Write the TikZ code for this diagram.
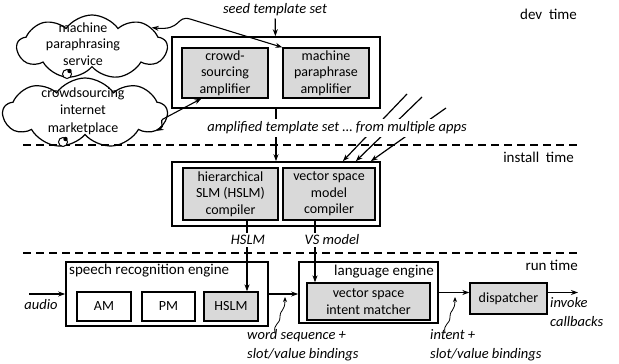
\documentclass[tikz,border=0pt]{standalone}
\usepackage{fontspec}
\setmainfont{Carlito}
\usetikzlibrary{arrows.meta,positioning,calc,shapes.symbols}
\definecolor{boxgray}{HTML}{D9D9D9}
\tikzset{
  stage/.style={draw,line width=1.6pt,inner sep=0pt},
  unit/.style={draw,line width=1.3pt,fill=boxgray,inner sep=0pt,align=center,font=\fontsize{14}{16.5}\selectfont},
  plainunit/.style={draw,line width=1.3pt,inner sep=0pt,align=center,font=\fontsize{14}{16.5}\selectfont},
  lbl/.style={font=\fontsize{14.5}{19}\selectfont\itshape,fill=white,inner sep=2pt,align=left},
  phase/.style={font=\fontsize{15}{17}\selectfont,inner sep=0pt},
  cloudsh/.style={cloud,draw,line width=1.2pt,cloud puffs=9,cloud puff arc=110,cloud ignores aspect,inner sep=0pt},
  flow/.style={-{Stealth[length=7pt,width=5pt]},line width=1.2pt},
  sep/.style={line width=1.6pt,dash pattern=on 8pt off 5pt}
}
\begin{document}
\begin{tikzpicture}[x=1pt,y=-1pt]
  \useasboundingbox (0,0) rectangle (619,364);

  % phase separators
  \coordinate (s1l) at (23,145);
  \coordinate (s1r) at (577,145);
  \coordinate (s2l) at (23,253);
  \coordinate (s2r) at (577,253);
  \draw[sep] (s1l) -- (s1r);
  \draw[sep] (s2l) -- (s2r);
  \node[phase,anchor=east] (devt) at (577,14) {dev\ \ time};
  \node[phase,anchor=east] (instt) at (574,157) {install\ \ time};
  \node[phase,anchor=east] (runt) at (578,265) {run time};

  % dev time
  \node[stage,minimum width=208,minimum height=71] (dev) at (276,72.5) {};
  \node[unit,minimum width=86,minimum height=50] (cs) at (225,73) {crowd-\\sourcing\\amplifier};
  \node[unit,minimum width=86,minimum height=50] (mp) at (326,73) {machine\\paraphrase\\amplifier};

  % services
  \node[cloudsh,minimum width=150,minimum height=64] (mpcloud) at (92,47) {};
  \node[font=\fontsize{14}{16.5}\selectfont,align=center] (mptxt) at (83,44) {machine\\paraphrasing\\service};
  \node[cloudsh,minimum width=164,minimum height=70] (cscloud) at (85,113) {};
  \node[font=\fontsize{14}{17.5}\selectfont,align=center] (cstxt) at (83,111) {crowdsourcing\\internet\\marketplace};
  \draw[line width=1pt,fill=white] (67,74) circle[radius=4.5pt];
  \fill (69.5,71) circle[radius=2.2pt];
  \draw[line width=1pt,fill=white] (63,142) circle[radius=4.5pt];
  \fill (65.5,139) circle[radius=2.2pt];

  \draw[{Stealth[length=7pt,width=5pt]}-{Stealth[length=7pt,width=5pt]},line width=1.1pt]
    (mp.north west) -- (190,19) .. controls (176,15) and (182,31) .. (mpcloud.18);
  \draw[{Stealth[length=7pt,width=5pt]}-{Stealth[length=7pt,width=5pt]},line width=1.1pt]
    ([xshift=20pt]cs.south west) -- (165,118) .. controls (157,121) and (166,126) .. (cscloud.-14);

  % install time
  \node[stage,minimum width=208,minimum height=64] (inst) at (276,194) {};
  \node[unit,minimum width=95,minimum height=52] (hslmc) at (230.5,194) {hierarchical\\SLM (HSLM)\\compiler};
  \node[unit,minimum width=92,minimum height=52] (vsc) at (329,194) {vector space\\model\\compiler};

  \coordinate (app1) at (407,94);
  \coordinate (app2) at (422,97);
  \coordinate (app3) at (446,108);
  \draw[flow] (app1) -- ([xshift=-38pt]inst.north east);
  \draw[flow] (app2) -- ([xshift=-25pt]inst.north east);
  \draw[flow] (app3) -- ([xshift=-10pt]inst.north east);

  \node[lbl] (seed) at (275,10) {seed template set};
  \draw[flow] (seed) -- (dev);
  \draw[flow] (dev) -- (inst);
  \node[lbl,inner sep=3pt] (amp) at (337,128) {amplified template set \dots\ from multiple apps};

  % run time
  \node[stage,minimum width=202,minimum height=64] (sre) at (167,294) {};
  \node[phase,anchor=west] (srelbl) at (69,271) {speech recognition engine};
  \node[plainunit,minimum width=54,minimum height=29] (am) at (104,306.5) {AM};
  \node[plainunit,minimum width=53,minimum height=29] (pm) at (168.5,306.5) {PM};
  \node[unit,minimum width=54,minimum height=29] (hslm) at (231,306.5) {HSLM};

  \node[stage,minimum width=139,minimum height=61] (le) at (368.5,292.5) {};
  \node[phase,anchor=east] (lelbl) at (434,272) {language engine};
  \node[unit,minimum width=123,minimum height=37] (vsim) at (368.5,301.5) {vector space\\intent matcher};

  \node[unit,minimum width=77,minimum height=31] (disp) at (508.5,298.5) {dispatcher};

  \draw[flow] ([xshift=16.5pt]hslmc.south) -- ([xshift=16.5pt]hslmc.south |- hslm.north);
  \draw[flow] ([xshift=-14pt]vsc.south) -- ([xshift=-14pt]vsc.south |- vsim.north);
  \node[lbl] (hslmlbl) at (248,240) {HSLM};
  \node[lbl] (vslbl) at (332,240) {VS model};

  \coordinate (audio0) at (29,294);
  \coordinate (inv) at (578,292.5);
  \draw[flow] (audio0) -- (sre.west);
  \draw[flow] (sre.east) -- (sre.east -| le.west);
  \draw[flow] (le.east) -- (le.east -| disp.west);
  \draw[flow] (le.east -| disp.east) -- (inv);
  \node[lbl,fill=none] (audio) at (41,305) {audio};
  \node[lbl,fill=none,anchor=north west,inner sep=0pt] (invlbl) at (550,297) {invoke\\callbacks};

  % callouts
  \coordinate (ws0) at (275,333);
  \coordinate (ws1) at (285,297);
  \coordinate (it0) at (445,333);
  \coordinate (it1) at (455,297);
  \draw[-{Stealth[length=5pt,width=4pt]},line width=0.8pt]
    (ws0) .. controls (273,323) and (280,325) .. (280,317) .. controls (280,309) and (285,312) .. (ws1);
  \draw[-{Stealth[length=5pt,width=4pt]},line width=0.8pt]
    (it0) .. controls (443,323) and (450,325) .. (450,317) .. controls (450,309) and (455,312) .. (it1);
  \node[lbl,fill=none,anchor=north west,inner sep=0pt] (wslbl) at (247,329) {word sequence +\\slot/value bindings};
  \node[lbl,fill=none,anchor=north west,inner sep=0pt] (itlbl) at (430,329) {intent +\\slot/value bindings};
\end{tikzpicture}
\end{document}
